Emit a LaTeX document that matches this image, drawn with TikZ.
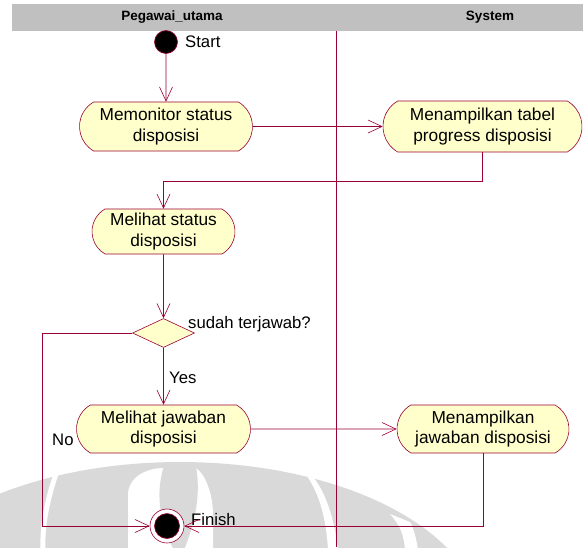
\documentclass[tikz,border=0pt]{standalone}
\usepackage{fontspec}
\setmainfont{Liberation Sans}
\usetikzlibrary{arrows.meta,shapes.misc,shapes.geometric}

\definecolor{umlline}{RGB}{153,0,51}
\definecolor{umlfill}{RGB}{255,255,204}
\definecolor{lanehead}{RGB}{192,192,192}
\definecolor{wmgray}{RGB}{217,217,217}

\tikzset{
  act/.style={rounded rectangle, rounded rectangle arc length=120,
    draw=umlline, fill=umlfill, line width=0.6pt, align=center,
    font=\fontsize{17.3}{20.5}\selectfont, inner sep=0pt},
  decision/.style={diamond, draw=umlline, fill=umlfill, line width=0.6pt, inner sep=0pt},
  flow/.style={draw=umlline, line width=0.6pt, -{Straight Barb[length=14pt,width=13pt]}},
  lbl/.style={font=\fontsize{16.7}{19}\selectfont, inner sep=0pt},
  headtext/.style={font=\bfseries\fontsize{13.5}{16}\selectfont, inner sep=0pt},
}

\begin{document}
\begin{tikzpicture}[x=1pt,y=-1pt]
\useasboundingbox (0,0) rectangle (583,547);

% faint logo in the background
\begin{scope}
  \clip (0,0) rectangle (583,547);
  \fill[wmgray] (180,620) ellipse [x radius=300pt, y radius=158pt];
  \draw[white, line width=5pt] (57,471) .. controls (47,500) and (42,525) .. (43,550);
  \fill[white] (128,550) -- (128,495) .. controls (128,478) and (145,468) .. (164,468)
    -- (196,468) .. controls (206,475) and (213,495) .. (213,515) -- (213,550) -- cycle;
  \fill[wmgray] (164,466) -- (196,466) .. controls (200,490) and (198,515) .. (184,550)
    -- (174,550) .. controls (158,520) and (156,490) .. (164,466) -- cycle;
  \fill[white] (304,472) .. controls (318,490) and (326,515) .. (328,550)
    -- (338,550) .. controls (334,515) and (324,488) .. (309,472) -- cycle;
  \fill[white] (390,514) .. controls (400,525) and (404,535) .. (405,550)
    -- (418,550) .. controls (416,535) and (412,525) .. (410,522) -- cycle;
\end{scope}

% swimlane header and divider
\fill[lanehead] (12,4) rectangle (583,31);
\node[headtext] (lane1) at (172,17.5) {Pegawai\_utama};
\node[headtext] (lane2) at (490,17.5) {System};
\draw[umlline, line width=0.6pt] (336,31) -- (336,547);

% activities
\node[act, minimum width=173pt, minimum height=49pt] (mon) at (166,126.5) {Memonitor status\\disposisi};
\node[act, minimum width=199pt, minimum height=51pt] (tab) at (482.5,126.5) {Menampilkan tabel\\progress disposisi};
\node[act, minimum width=143pt, minimum height=45pt] (stat) at (163.5,231.5) {Melihat status\\disposisi};
\node[decision, minimum width=62pt, minimum height=29pt] (dec) at (163.5,333) {};
\node[act, minimum width=174pt, minimum height=48pt] (jaw) at (163.5,429) {Melihat jawaban\\disposisi};
\node[act, minimum width=172pt, minimum height=48pt] (mjaw) at (483,429) {Menampilkan\\jawaban disposisi};

% start and end states
\node[circle, fill=black, draw=umlline, line width=0.6pt, minimum size=23pt, inner sep=0pt] (start) at (166,42) {};
\node[circle, draw=umlline, fill=white, line width=0.6pt, minimum size=34pt, inner sep=0pt,
  path picture={\draw[umlline, fill=black, line width=0.6pt] (path picture bounding box.center) circle[radius=12.5pt];}]
  (fin) at (167,526) {};

% labels
\node[lbl, anchor=base west] (startlbl) at (185,47) {Start};
\node[lbl, anchor=base west] (declbl) at (188,328) {sudah terjawab?};
\node[lbl, anchor=base west] (yeslbl) at (169,383) {Yes};
\node[lbl, anchor=base west] (nolbl) at (52,445) {No};
\node[lbl, anchor=base west] (finlbl) at (191,525) {Finish};

% transitions
\coordinate (nocorner) at (42,333);
\draw[flow] (start) -- (mon);
\draw[flow] (mon) -- (tab);
\draw[flow] (tab.south) -- ++(0,29) -| (stat.north);
\draw[flow] (stat) -- (dec);
\draw[flow] (dec) -- (jaw);
\draw[flow] (dec.west) -- (nocorner) |- (fin.west);
\draw[flow] (jaw) -- (mjaw);
\draw[flow] (mjaw.south) |- (fin.east);
\end{tikzpicture}
\end{document}
